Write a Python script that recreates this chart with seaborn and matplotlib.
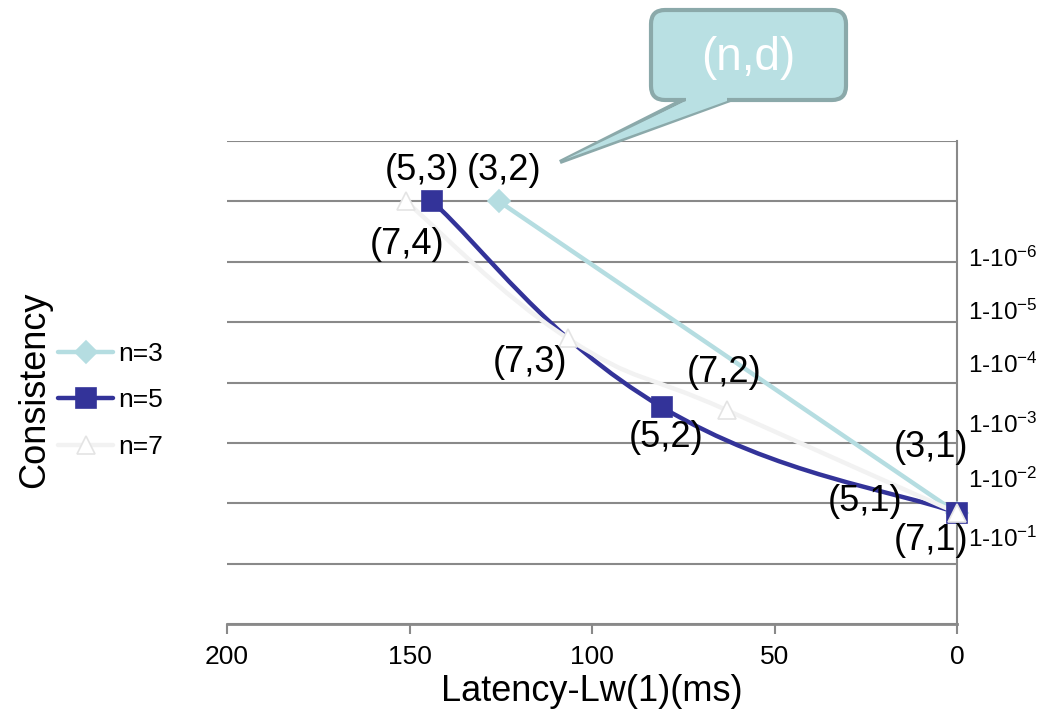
import numpy as np
import pandas as pd
import seaborn as sns
import matplotlib.pyplot as plt
from matplotlib.patches import FancyBboxPatch, Polygon, PathPatch
from matplotlib.path import Path
from matplotlib.transforms import IdentityTransform

# ---------------- data ----------------
series_names = ["n=3", "n=5", "n=7"]

n3_latency = [125.5, 0.0]
n3_consistency = [7.0, 1.84]
n3_labels = ["(3,2)", "(3,1)"]

n5_latency = [143.8, 80.8, 0.0]
n5_consistency = [7.0, 3.59, 1.84]
n5_labels = ["(5,3)", "(5,2)", "(5,1)"]

n7_latency = [151.0, 106.6, 63.0, 0.0]
n7_consistency = [7.0, 4.73, 3.54, 1.84]
n7_labels = ["(7,4)", "(7,3)", "(7,2)", "(7,1)"]

x_ticks = [200, 150, 100, 50, 0]
right_labels = ["1-10$^{-6}$", "1-10$^{-5}$", "1-10$^{-4}$",
                "1-10$^{-3}$", "1-10$^{-2}$", "1-10$^{-1}$"]
callout_text = "(n,d)"
x_title = "Latency-Lw(1)(ms)"
y_title = "Consistency"

# ---------------- style / positions ----------------
right_label_pos = [6.08, 5.20, 4.32, 3.33, 2.42, 1.44]
label_offsets = {
    "n=3": [(4, 22), (-19, 47)],
    "n=5": [(-7, 22), (3, -22), (-66, 8)],
    "n=7": [(1, -31), (-27, -17), (-2, 27), (-19, -20)],
}
styles = {
    "n=3": dict(color="#B5DDE1", marker="D", ms=11, mfc="#B5DDE1", mec="#B5DDE1", z=2.1),
    "n=5": dict(color="#333399", marker="s", ms=14, mfc="#333399", mec="#333399", z=2.2),
    "n=7": dict(color="#F2F2F2", marker="^", ms=13, mfc="#FFFFFF", mec="#E4E4E4", z=2.3),
}
grey = "#898989"
LW = 3.2

sns.set_theme(style="white")
plt.rcParams["font.family"] = ["Liberation Sans", "DejaVu Sans"]
plt.rcParams["mathtext.default"] = "regular"
for k in ["text.color", "axes.labelcolor", "xtick.color", "ytick.color"]:
    plt.rcParams[k] = "black"

fig = plt.figure(figsize=(10.38, 7.2), dpi=100)
ax = fig.add_axes([227 / 1038, 96 / 720, 730 / 1038, 483 / 720])
ax.set_xlim(200, 0)
ax.set_ylim(0, 8)

data = {
    "n=3": (n3_latency, n3_consistency, n3_labels),
    "n=5": (n5_latency, n5_consistency, n5_labels),
    "n=7": (n7_latency, n7_consistency, n7_labels),
}


def smooth_path(xs, ys, k=0.22):
    """Smoothed (Bezier) line through the data points, built in display space."""
    pts = ax.transData.transform(np.column_stack([xs, ys]))
    n = len(pts)
    verts = [pts[0]]
    codes = [Path.MOVETO]
    for i in range(n - 1):
        p0 = pts[i - 1] if i > 0 else pts[i]
        p1 = pts[i]
        p2 = pts[i + 1]
        p3 = pts[i + 2] if i + 2 < n else pts[i + 1]
        verts += [p1 + (p2 - p0) * k, p2 - (p3 - p1) * k, p2]
        codes += [Path.CURVE4] * 3
    verts = ax.transData.inverted().transform(np.array(verts))
    return Path(verts, codes)


marker_lines = []
for name in series_names:
    xs, ys, labs = data[name]
    st = styles[name]
    df = pd.DataFrame({"latency": xs, "consistency": ys})
    before = len(ax.lines)
    sns.lineplot(data=df, x="latency", y="consistency", ax=ax, sort=False,
                 color=st["color"], linewidth=LW, marker=st["marker"],
                 markersize=st["ms"], markerfacecolor=st["mfc"],
                 markeredgecolor=st["mec"], markeredgewidth=1.2,
                 label=name, zorder=st["z"] + 1)
    marker_lines.append(ax.lines[before])
    for (x, y, t, off) in zip(xs, ys, labs, label_offsets[name]):
        ax.annotate(t, (x, y), xytext=off, textcoords="offset points",
                    ha="center", va="center", fontsize=26, color="black",
                    zorder=5, annotation_clip=False)

if ax.get_legend() is not None:
    ax.get_legend().remove()

ax.set_xlim(200, 0)
ax.set_ylim(0, 8)
ax.set_xticks(x_ticks)
ax.set_xticklabels([str(v) for v in x_ticks])
ax.set_yticks(range(0, 9))
ax.grid(axis="y", color=grey, linewidth=1.5)
ax.grid(axis="x", visible=False)
ax.set_axisbelow(True)
for s in ["left", "top"]:
    ax.spines[s].set_visible(False)
ax.spines["right"].set_visible(True)
ax.spines["right"].set_color(grey)
ax.spines["right"].set_linewidth(1.5)
ax.spines["bottom"].set_color(grey)
ax.spines["bottom"].set_linewidth(2)

ax.set_xlabel(x_title, fontsize=26)
ax.xaxis.set_label_coords(0.5, -0.103)
ax.set_ylabel(y_title, fontsize=26, va="center")
ax.yaxis.set_label_coords(-0.263, 0.484)

# right-side labels
ax2 = ax.twinx()
ax2.set_ylim(0, 8)
ax2.set_yticks(right_label_pos)
ax2.set_yticklabels(right_labels)
ax2.tick_params(axis="y", length=0, pad=8, labelsize=17.5, right=True,
                labelright=True, left=False, labelleft=False)
ax2.grid(False)
for s in ax2.spines.values():
    s.set_visible(False)

ax.tick_params(axis="y", left=False, labelleft=False, right=False, labelright=False)
ax.tick_params(axis="x", direction="out", length=7, width=1.5, color=grey,
               labelsize=19, pad=8, bottom=True, labelcolor="black")

# legend (copies line+marker styles at creation)
handles, labels = ax.get_legend_handles_labels()
fig.legend(handles, labels, loc="upper left", bbox_to_anchor=(58 / 1038, 1 - 342 / 720),
           frameon=False, fontsize=19, handlelength=2.1, handletextpad=0.2,
           labelspacing=0.85, borderpad=0, borderaxespad=0)

# replace straight connecting segments by smoothed lines through the same data
for name, ln in zip(series_names, marker_lines):
    xs, ys, _ = data[name]
    st = styles[name]
    ln.set_linestyle("none")
    ln.set_clip_on(False)
    ax.add_patch(PathPatch(smooth_path(xs, ys), fc="none", ec=st["color"],
                           lw=LW, zorder=st["z"], capstyle="round",
                           joinstyle="round", clip_on=False))

# callout
H = 720
fill_c = "#B9E0E3"
edge_c = "#8BA9AA"
tail = [(683, H - 100), (730, H - 100), (560, H - 162)]
fig.add_artist(Polygon(tail, closed=True, transform=IdentityTransform(),
                       fc=fill_c, ec=edge_c, lw=3, zorder=10))
fig.add_artist(FancyBboxPatch((651, H - 100), 195, 90,
                              boxstyle="round,pad=0,rounding_size=14",
                              transform=IdentityTransform(), fc=fill_c,
                              ec=edge_c, lw=3, zorder=11))
tail_in = [(686, H - 96), (727, H - 96), (727, H - 101), (566, H - 159), (686, H - 101)]
fig.add_artist(Polygon(tail_in, closed=True, transform=IdentityTransform(),
                       fc=fill_c, ec="none", zorder=12))
fig.text(748 / 1038, 1 - 58 / H, callout_text, ha="center", va="center",
         fontsize=33, color="white", zorder=13)

fig.savefig("out.png", dpi=100)
